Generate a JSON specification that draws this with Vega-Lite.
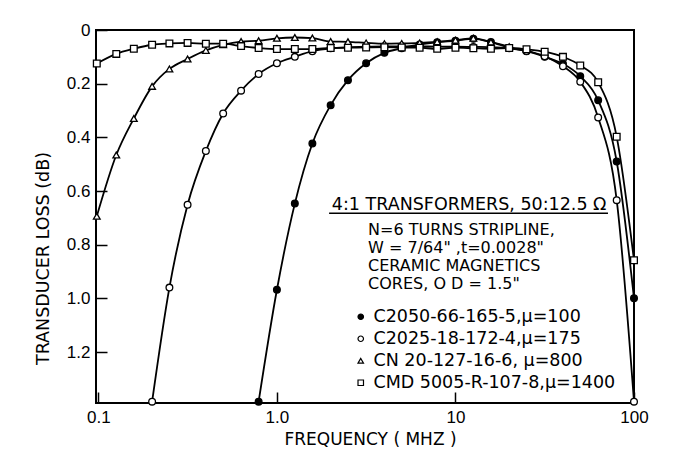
{
  "$schema": "https://vega.github.io/schema/vega-lite/v6.json",
  "width": 538,
  "height": 373,
  "autosize": {"type": "none"},
  "padding": {"left": 96, "top": 30, "right": 43, "bottom": 58},
  "background": "white",
  "config": {
    "view": {"stroke": "black", "strokeWidth": 2},
    "font": "DejaVu Sans",
    "axis": {
      "domain": false,
      "grid": false,
      "ticks": true,
      "tickSize": -11,
      "tickColor": "black",
      "tickWidth": 1.5,
      "labelFont": "Liberation Sans",
      "labelFontSize": 17,
      "labelColor": "black",
      "labelFlush": false,
      "labelOverlap": false,
      "titleFont": "DejaVu Sans",
      "titleFontWeight": "normal",
      "titleColor": "black"
    },
    "legend": {
      "labelFont": "DejaVu Sans",
      "labelFontSize": 17.5,
      "labelColor": "black",
      "labelOffset": 4,
      "rowPadding": 3,
      "symbolSize": 30,
      "symbolStrokeColor": "black",
      "symbolStrokeWidth": 1.2,
      "symbolOpacity": 1,
      "padding": 0,
      "labelLimit": 400
    }
  },
  "datasets": {
    "curves": [
      {"s": "C2050-66-165-5,μ=100", "f": 0.79, "l": 1.385},
      {"s": "C2050-66-165-5,μ=100", "f": 1.0, "l": 0.968},
      {"s": "C2050-66-165-5,μ=100", "f": 1.26, "l": 0.647},
      {"s": "C2050-66-165-5,μ=100", "f": 1.58, "l": 0.423},
      {"s": "C2050-66-165-5,μ=100", "f": 2.0, "l": 0.28},
      {"s": "C2050-66-165-5,μ=100", "f": 2.5, "l": 0.187},
      {"s": "C2050-66-165-5,μ=100", "f": 3.16, "l": 0.124},
      {"s": "C2050-66-165-5,μ=100", "f": 4.0, "l": 0.085},
      {"s": "C2050-66-165-5,μ=100", "f": 5.0, "l": 0.068},
      {"s": "C2050-66-165-5,μ=100", "f": 6.3, "l": 0.054},
      {"s": "C2050-66-165-5,μ=100", "f": 7.9, "l": 0.046},
      {"s": "C2050-66-165-5,μ=100", "f": 10, "l": 0.04},
      {"s": "C2050-66-165-5,μ=100", "f": 12.6, "l": 0.033},
      {"s": "C2050-66-165-5,μ=100", "f": 15.8, "l": 0.045},
      {"s": "C2050-66-165-5,μ=100", "f": 20, "l": 0.066},
      {"s": "C2050-66-165-5,μ=100", "f": 25, "l": 0.079},
      {"s": "C2050-66-165-5,μ=100", "f": 31.6, "l": 0.1},
      {"s": "C2050-66-165-5,μ=100", "f": 40, "l": 0.126},
      {"s": "C2050-66-165-5,μ=100", "f": 50, "l": 0.172},
      {"s": "C2050-66-165-5,μ=100", "f": 63, "l": 0.262},
      {"s": "C2050-66-165-5,μ=100", "f": 80, "l": 0.49},
      {"s": "C2050-66-165-5,μ=100", "f": 100, "l": 1.0},

      {"s": "C2025-18-172-4,μ=175", "f": 0.2, "l": 1.385},
      {"s": "C2025-18-172-4,μ=175", "f": 0.25, "l": 0.96},
      {"s": "C2025-18-172-4,μ=175", "f": 0.316, "l": 0.651},
      {"s": "C2025-18-172-4,μ=175", "f": 0.4, "l": 0.451},
      {"s": "C2025-18-172-4,μ=175", "f": 0.5, "l": 0.311},
      {"s": "C2025-18-172-4,μ=175", "f": 0.63, "l": 0.226},
      {"s": "C2025-18-172-4,μ=175", "f": 0.79, "l": 0.164},
      {"s": "C2025-18-172-4,μ=175", "f": 1.0, "l": 0.124},
      {"s": "C2025-18-172-4,μ=175", "f": 1.26, "l": 0.1},
      {"s": "C2025-18-172-4,μ=175", "f": 1.58, "l": 0.079},
      {"s": "C2025-18-172-4,μ=175", "f": 2.0, "l": 0.068},
      {"s": "C2025-18-172-4,μ=175", "f": 2.5, "l": 0.064},
      {"s": "C2025-18-172-4,μ=175", "f": 3.16, "l": 0.062},
      {"s": "C2025-18-172-4,μ=175", "f": 4.0, "l": 0.061},
      {"s": "C2025-18-172-4,μ=175", "f": 5.0, "l": 0.061},
      {"s": "C2025-18-172-4,μ=175", "f": 6.3, "l": 0.061},
      {"s": "C2025-18-172-4,μ=175", "f": 7.9, "l": 0.062},
      {"s": "C2025-18-172-4,μ=175", "f": 10, "l": 0.062},
      {"s": "C2025-18-172-4,μ=175", "f": 12.6, "l": 0.063},
      {"s": "C2025-18-172-4,μ=175", "f": 15.8, "l": 0.064},
      {"s": "C2025-18-172-4,μ=175", "f": 20, "l": 0.068},
      {"s": "C2025-18-172-4,μ=175", "f": 25, "l": 0.078},
      {"s": "C2025-18-172-4,μ=175", "f": 31.6, "l": 0.098},
      {"s": "C2025-18-172-4,μ=175", "f": 40, "l": 0.135},
      {"s": "C2025-18-172-4,μ=175", "f": 50, "l": 0.193},
      {"s": "C2025-18-172-4,μ=175", "f": 63, "l": 0.326},
      {"s": "C2025-18-172-4,μ=175", "f": 80, "l": 0.634},
      {"s": "C2025-18-172-4,μ=175", "f": 100, "l": 1.385},

      {"s": "CN 20-127-16-6, μ=800", "f": 0.098, "l": 0.694},
      {"s": "CN 20-127-16-6, μ=800", "f": 0.126, "l": 0.466},
      {"s": "CN 20-127-16-6, μ=800", "f": 0.158, "l": 0.33},
      {"s": "CN 20-127-16-6, μ=800", "f": 0.2, "l": 0.21},
      {"s": "CN 20-127-16-6, μ=800", "f": 0.25, "l": 0.145},
      {"s": "CN 20-127-16-6, μ=800", "f": 0.316, "l": 0.108},
      {"s": "CN 20-127-16-6, μ=800", "f": 0.4, "l": 0.076},
      {"s": "CN 20-127-16-6, μ=800", "f": 0.5, "l": 0.055},
      {"s": "CN 20-127-16-6, μ=800", "f": 0.63, "l": 0.043},
      {"s": "CN 20-127-16-6, μ=800", "f": 0.79, "l": 0.04},
      {"s": "CN 20-127-16-6, μ=800", "f": 1.0, "l": 0.031},
      {"s": "CN 20-127-16-6, μ=800", "f": 1.26, "l": 0.028},
      {"s": "CN 20-127-16-6, μ=800", "f": 1.58, "l": 0.03},
      {"s": "CN 20-127-16-6, μ=800", "f": 2.0, "l": 0.043},
      {"s": "CN 20-127-16-6, μ=800", "f": 2.5, "l": 0.044},
      {"s": "CN 20-127-16-6, μ=800", "f": 3.16, "l": 0.048},
      {"s": "CN 20-127-16-6, μ=800", "f": 4.0, "l": 0.051},
      {"s": "CN 20-127-16-6, μ=800", "f": 5.0, "l": 0.05},
      {"s": "CN 20-127-16-6, μ=800", "f": 6.3, "l": 0.048},
      {"s": "CN 20-127-16-6, μ=800", "f": 7.9, "l": 0.044},
      {"s": "CN 20-127-16-6, μ=800", "f": 10, "l": 0.038},
      {"s": "CN 20-127-16-6, μ=800", "f": 12.6, "l": 0.031},
      {"s": "CN 20-127-16-6, μ=800", "f": 15.8, "l": 0.045},
      {"s": "CN 20-127-16-6, μ=800", "f": 20, "l": 0.062},

      {"s": "CMD 5005-R-107-8,μ=1400", "f": 0.098, "l": 0.125},
      {"s": "CMD 5005-R-107-8,μ=1400", "f": 0.126, "l": 0.089},
      {"s": "CMD 5005-R-107-8,μ=1400", "f": 0.158, "l": 0.07},
      {"s": "CMD 5005-R-107-8,μ=1400", "f": 0.2, "l": 0.055},
      {"s": "CMD 5005-R-107-8,μ=1400", "f": 0.25, "l": 0.05},
      {"s": "CMD 5005-R-107-8,μ=1400", "f": 0.316, "l": 0.048},
      {"s": "CMD 5005-R-107-8,μ=1400", "f": 0.4, "l": 0.051},
      {"s": "CMD 5005-R-107-8,μ=1400", "f": 0.5, "l": 0.051},
      {"s": "CMD 5005-R-107-8,μ=1400", "f": 0.63, "l": 0.06},
      {"s": "CMD 5005-R-107-8,μ=1400", "f": 0.79, "l": 0.067},
      {"s": "CMD 5005-R-107-8,μ=1400", "f": 1.0, "l": 0.071},
      {"s": "CMD 5005-R-107-8,μ=1400", "f": 1.26, "l": 0.071},
      {"s": "CMD 5005-R-107-8,μ=1400", "f": 1.58, "l": 0.071},
      {"s": "CMD 5005-R-107-8,μ=1400", "f": 2.0, "l": 0.067},
      {"s": "CMD 5005-R-107-8,μ=1400", "f": 2.5, "l": 0.066},
      {"s": "CMD 5005-R-107-8,μ=1400", "f": 3.16, "l": 0.065},
      {"s": "CMD 5005-R-107-8,μ=1400", "f": 4.0, "l": 0.064},
      {"s": "CMD 5005-R-107-8,μ=1400", "f": 5.0, "l": 0.065},
      {"s": "CMD 5005-R-107-8,μ=1400", "f": 6.3, "l": 0.066},
      {"s": "CMD 5005-R-107-8,μ=1400", "f": 7.9, "l": 0.07},
      {"s": "CMD 5005-R-107-8,μ=1400", "f": 10, "l": 0.066},
      {"s": "CMD 5005-R-107-8,μ=1400", "f": 12.6, "l": 0.068},
      {"s": "CMD 5005-R-107-8,μ=1400", "f": 15.8, "l": 0.07},
      {"s": "CMD 5005-R-107-8,μ=1400", "f": 20, "l": 0.067},
      {"s": "CMD 5005-R-107-8,μ=1400", "f": 25, "l": 0.072},
      {"s": "CMD 5005-R-107-8,μ=1400", "f": 31.6, "l": 0.081},
      {"s": "CMD 5005-R-107-8,μ=1400", "f": 40, "l": 0.1},
      {"s": "CMD 5005-R-107-8,μ=1400", "f": 50, "l": 0.132},
      {"s": "CMD 5005-R-107-8,μ=1400", "f": 63, "l": 0.195},
      {"s": "CMD 5005-R-107-8,μ=1400", "f": 80, "l": 0.398},
      {"s": "CMD 5005-R-107-8,μ=1400", "f": 100, "l": 0.858}
    ]
  },
  "layer": [
    {
      "data": {"name": "curves"},
      "mark": {"type": "line", "interpolate": "monotone", "stroke": "black", "strokeWidth": 1.8},
      "encoding": {
        "x": {
          "field": "f",
          "type": "quantitative",
          "scale": {"type": "log", "domain": [0.097, 100], "nice": false},
          "axis": {
            "values": [0.1, 1, 10, 100],
            "labelExpr": "datum.value < 0.5 ? '0.1' : datum.value < 5 ? '1.0' : datum.value < 50 ? '10' : '100'",
            "labelPadding": 17,
            "labelDx": 4,
            "title": "FREQUENCY ( MHZ )",
            "titleFontSize": 17,
            "titleX": 274,
            "titleY": 36,
            "titleAlign": "center",
            "titleBaseline": "middle"
          }
        },
        "y": {
          "field": "l",
          "type": "quantitative",
          "scale": {"domain": [0, 1.39], "reverse": true, "nice": false, "zero": false},
          "axis": {
            "values": [0, 0.2, 0.4, 0.6, 0.8, 1.0, 1.2],
            "labelExpr": "datum.value === 0 ? '0' : format(datum.value, '.1f')",
            "labelPadding": 17,
            "title": "TRANSDUCER LOSS (dB)",
            "titleFontSize": 17.5,
            "titleX": -53,
            "titleY": 228,
            "titleAngle": -90,
            "titleAlign": "center",
            "titleBaseline": "middle"
          }
        },
        "detail": {"field": "s", "type": "nominal"}
      }
    },
    {
      "data": {"name": "curves"},
      "mark": {"type": "point", "filled": true, "stroke": "black", "strokeWidth": 1.3, "size": 45, "opacity": 1},
      "encoding": {
        "x": {"field": "f", "type": "quantitative"},
        "y": {"field": "l", "type": "quantitative"},
        "shape": {
          "field": "s",
          "type": "nominal",
          "scale": {
            "domain": ["C2050-66-165-5,μ=100", "C2025-18-172-4,μ=175", "CN 20-127-16-6, μ=800", "CMD 5005-R-107-8,μ=1400"],
            "range": ["circle", "circle", "triangle-up", "square"]
          },
          "legend": {
            "title": null, "orient": "none", "legendX": 256, "legendY": 278,
            "symbolStrokeColor": "black",
            "encode": {"symbols": {"update": {"stroke": {"value": "black"}, "strokeWidth": {"value": 1.2}}}}
          }
        },
        "fill": {
          "field": "s",
          "type": "nominal",
          "scale": {
            "domain": ["C2050-66-165-5,μ=100", "C2025-18-172-4,μ=175", "CN 20-127-16-6, μ=800", "CMD 5005-R-107-8,μ=1400"],
            "range": ["black", "white", "white", "white"]
          },
          "legend": {
            "title": null, "orient": "none", "legendX": 256, "legendY": 278,
            "symbolStrokeColor": "black",
            "encode": {"symbols": {"update": {"stroke": {"value": "black"}, "strokeWidth": {"value": 1.2}}}}
          }
        }
      }
    },
    {
      "data": {"values": [{"t": "4:1 TRANSFORMERS, 50:12.5 Ω"}]},
      "mark": {"type": "text", "align": "left", "baseline": "alphabetic", "fontSize": 17.5, "fill": "black", "font": "DejaVu Sans"},
      "encoding": {
        "x": {"datum": 2.03},
        "y": {"datum": 0.671},
        "text": {"field": "t"}
      }
    },
    {
      "data": {"values": [{"t": "underline"}]},
      "mark": {"type": "rule", "stroke": "black", "strokeWidth": 1.5},
      "encoding": {
        "x": {"datum": 1.96},
        "x2": {"datum": 71.5},
        "y": {"datum": 0.683}
      }
    },
    {
      "data": {"values": [{"t": "N=6 TURNS STRIPLINE,"}, {"t": "W = 7/64\" ,t=0.0028\""}, {"t": "CERAMIC MAGNETICS"}, {"t": "CORES, O D = 1.5\""}]},
      "transform": [{"aggregate": [{"op": "values", "field": "t", "as": "rows"}]}, {"calculate": "pluck(datum.rows, 't')", "as": "lines"}],
      "mark": {
        "type": "text",
        "align": "left",
        "baseline": "alphabetic",
        "fontSize": 16,
        "lineHeight": 18,
        "fill": "black",
        "font": "DejaVu Sans"
      },
      "encoding": {
        "x": {"datum": 3.24},
        "y": {"datum": 0.764},
        "text": {"field": "lines"}
      }
    }
  ]
}
